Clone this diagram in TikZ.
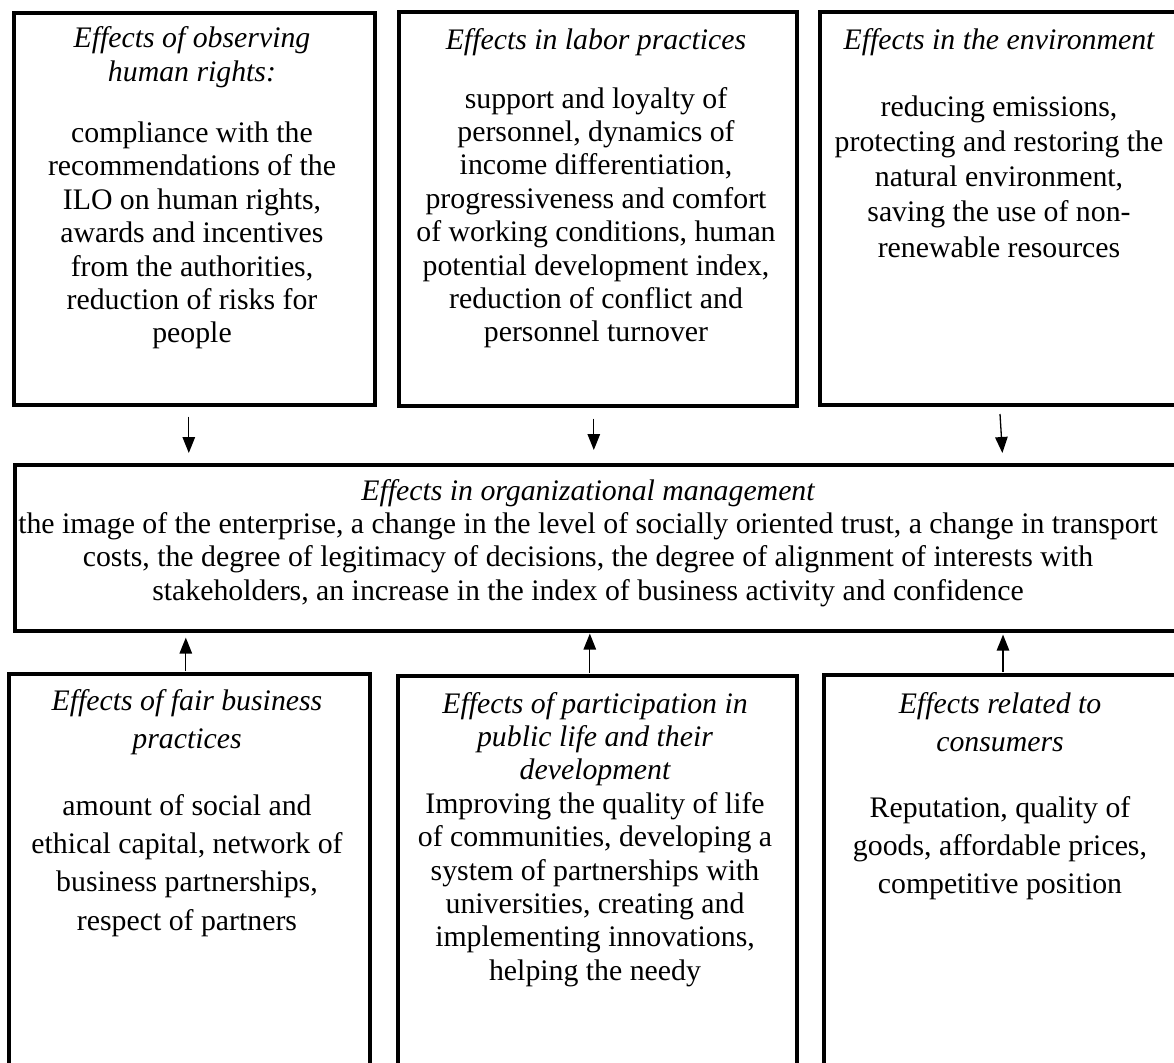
\documentclass[tikz,border=0pt]{standalone}
\usepackage{fontspec}
\setmainfont{Liberation Serif}
\usetikzlibrary{arrows.meta}
\tikzset{
  box/.style={draw, line width=3.6pt, inner sep=0pt, anchor=north west, fill=none},
  txt/.style={anchor=base, inner sep=0pt, font=\fontsize{29.8}{33.4}\selectfont},
  txtwide/.style={anchor=base, inner sep=0pt, font=\fontsize{29.8}{38.2}\selectfont},
  txtmid/.style={anchor=base, inner sep=0pt, font=\fontsize{29.8}{35}\selectfont},
  arr/.style={-{Triangle[length=16pt,width=12.5pt]}, line width=1.3pt}
}
\begin{document}
\begin{tikzpicture}[x=1pt,y=-1pt]
\useasboundingbox (0,0) rectangle (1174,1062);
\clip (0,0) rectangle (1174,1062);
% boxes
\node[box, minimum width=361pt, minimum height=392pt] (b1) at (12,11) {};
\node[box, minimum width=398pt, minimum height=394pt] (b2) at (397,10) {};
\node[box, minimum width=370pt, minimum height=393pt] (b3) at (818,10) {};
\node[box, minimum width=1175pt, minimum height=166pt] (m) at (13,463) {};
\node[box, minimum width=361pt, minimum height=420pt] (b4) at (7,672) {};
\node[box, minimum width=399pt, minimum height=420pt] (b5) at (396,674) {};
\node[box, minimum width=370pt, minimum height=420pt] (b6) at (822,673) {};
% texts
\node[txt] (t1) at (192,48) {\begin{tabular}[t]{@{}c@{}}\itshape Effects of observing\\ \itshape human rights:\\[27.7pt]
compliance with the\\ recommendations of the\\ ILO on human rights,\\ awards and incentives\\ from the authorities,\\ reduction of risks for\\ people\end{tabular}};
\node[txt] (t2) at (596,50) {\begin{tabular}[t]{@{}c@{}}\itshape Effects in labor practices\\[24.7pt]
support and loyalty of\\ personnel, dynamics of\\ income differentiation,\\ progressiveness and comfort\\ of working conditions, human\\ potential development index,\\ reduction of conflict and\\ personnel turnover\end{tabular}};
\node[txtmid] (t3) at (999,50) {\begin{tabular}[t]{@{}c@{}}\itshape Effects in the environment\\[32pt]
reducing emissions,\\ protecting and restoring the\\ natural environment,\\ saving the use of non-\\ renewable resources\end{tabular}};
\node[txt] (tm) at (588,500) {\begin{tabular}[t]{@{}c@{}}\itshape Effects in organizational management\\
the image of the enterprise, a change in the level of socially oriented trust, a change in transport\\ costs, the degree of legitimacy of decisions, the degree of alignment of interests with\\ stakeholders, an increase in the index of business activity and confidence\end{tabular}};
\node[txtwide] (t4) at (187,710) {\begin{tabular}[t]{@{}c@{}}\itshape Effects of fair business\\ \itshape practices\\[29pt]
amount of social and\\ ethical capital, network of\\ business partnerships,\\ respect of partners\end{tabular}};
\node[txt] (t5) at (595,713) {\begin{tabular}[t]{@{}c@{}}\itshape Effects of participation in\\ \itshape public life and their\\ \itshape development\\
Improving the quality of life\\ of communities, developing a\\ system of partnerships with\\ universities, creating and\\ implementing innovations,\\ helping the needy\end{tabular}};
\node[txtwide] (t6) at (1000,713) {\begin{tabular}[t]{@{}c@{}}\itshape Effects related to\\ \itshape consumers\\[28pt]
Reputation, quality of\\ goods, affordable prices,\\ competitive position\end{tabular}};
% arrows
\coordinate (a3s) at (1000,414);
\draw[arr, shorten <=10pt, shorten >=10pt] ([xshift=-5.5pt]b1.south) -- ([xshift=-5.5pt]b1.south |- m.north);
\draw[arr, shorten <=11pt, shorten >=13pt] ([xshift=-4pt]b2.south) -- ([xshift=-4pt]b2.south |- m.north);
\draw[arr, shorten >=10pt] (a3s) -- (1003,0 |- m.north);
\draw[arr, shorten <=1pt, shorten >=5pt] ([xshift=-3.5pt]b4.north) -- ([xshift=-3.5pt]b4.north |- m.south);
\draw[arr, shorten <=1pt, shorten >=1pt] ([xshift=-7.5pt]b5.north) -- ([xshift=-7.5pt]b5.north |- m.south);
\draw[arr, shorten <=1pt, shorten >=2pt] (1003,0 |- b6.north) -- (1003,0 |- m.south);
\end{tikzpicture}
\end{document}
